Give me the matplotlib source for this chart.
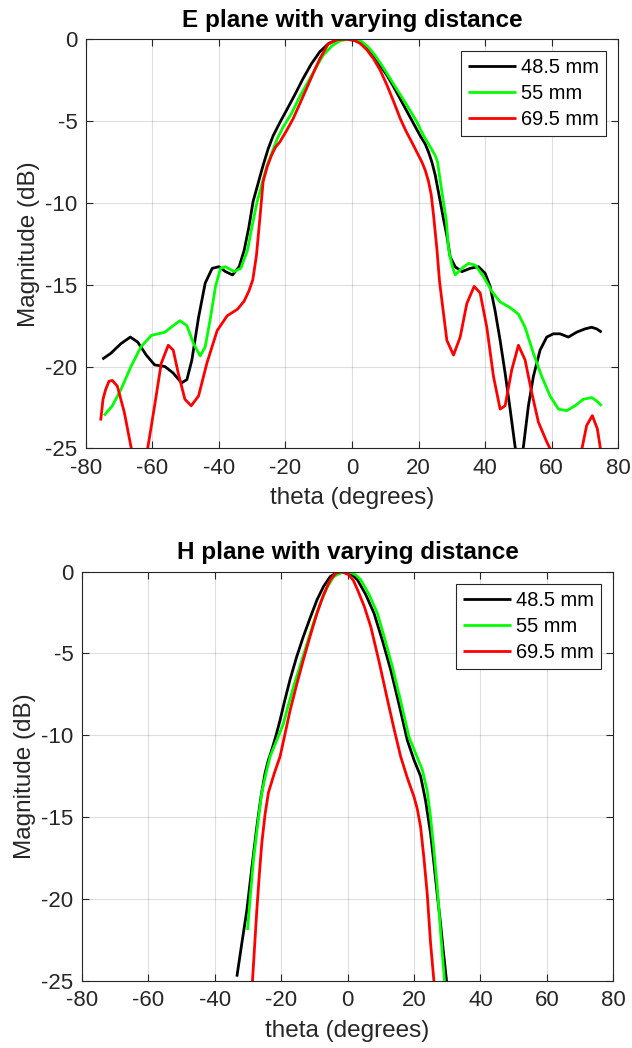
import numpy as np
import matplotlib
matplotlib.use('Agg')
import matplotlib.pyplot as plt

plt.rcParams['font.family'] = ['Liberation Sans', 'DejaVu Sans']
plt.rcParams['axes.unicode_minus'] = False

# E plane (theta deg, magnitude dB)
e_theta_485 = [-75, -72.5, -69.4, -66.6, -64.4, -61.8, -59.3, -56.2, -53.7, -51.2, -49.6, -48.1, -46.1, -44.1, -42, -40, -38, -35.9, -33.9,
               -32.4, -31, -29.7, -28.2, -26.7, -25.2, -23.7, -21.7, -19.7, -17.2, -14.7, -12.2, -9.7, -7, -4.5, -2, 0.5, 2.5, 4.5,
               6.5, 8.5, 10.5, 12.5, 14.5, 16.5, 18.5, 20.5, 22, 23, 24, 25, 26.5, 27.5, 28.5, 29.5, 31, 33, 35.5, 38,
               40, 41.5, 43, 44.5, 46, 47.5, 49, 50.2, 51.5, 53, 54.5, 56.5, 58.5, 60.5, 62.5, 65, 67.5, 70, 72, 73.5, 75]
e_db_485 = [-19.55, -19.2, -18.6, -18.2, -18.5, -19.3, -19.9, -20.0, -20.4, -21.0, -20.8, -19.6, -17.0, -14.9, -14.0, -13.9, -14.2, -14.4, -13.9,
            -12.9, -11.5, -9.9, -8.8, -7.7, -6.7, -5.9, -5.1, -4.35, -3.4, -2.4, -1.5, -0.77, -0.25, -0.03, 0, -0.05, -0.2, -0.47,
            -0.95, -1.6, -2.2, -2.9, -3.65, -4.4, -5.15, -5.9, -6.4, -6.9, -7.5, -8.3, -9.9, -11.0, -12.0, -13.3, -13.9, -14.2, -14.0, -13.9,
            -14.3, -15.1, -16.6, -18.4, -20.4, -22.6, -24.9, -26.3, -24.9, -22.4, -20.6, -19.0, -18.2, -18.0, -18.0, -18.2, -17.9, -17.7, -17.6, -17.7, -17.9]

e_theta_55 = [-74.5, -72, -69.4, -66.4, -63.4, -60.3, -56.2, -53.7, -51.7, -49.6, -47.6, -45.6, -44.1, -42.5, -41, -39.5, -38, -35.4, -33.4,
              -31.4, -30, -28.5, -27, -25.5, -24, -22.5, -20.5, -18.2, -15.7, -13.2, -11, -8.7, -6, -3.5, -1, 1, 3, 5,
              7, 9, 11, 13, 15, 17, 19.5, 21.5, 23, 24, 25, 25.7, 26.7, 27.5, 28.3, 29, 30, 31, 33, 35, 37,
              39.5, 42, 44.5, 47.5, 50, 52, 54.5, 57, 59.5, 62, 64.5, 67, 69.5, 72, 73.5, 75]
e_db_55 = [-23.0, -22.4, -21.4, -20.0, -18.8, -18.1, -17.9, -17.5, -17.2, -17.5, -18.6, -19.35, -18.8, -17.0, -15.1, -14.0, -13.9, -14.2, -14.0,
           -12.9, -11.4, -9.94, -8.8, -7.7, -6.9, -6.1, -5.3, -4.55, -3.5, -2.6, -1.8, -0.98, -0.4, -0.08, 0, 0, -0.15, -0.5,
           -1.0, -1.6, -2.25, -2.9, -3.55, -4.2, -5.05, -5.9, -6.4, -6.75, -7.1, -7.5, -8.9, -10.0, -11.0, -12.8, -13.8, -14.4, -14.0, -13.7, -13.8,
           -14.5, -15.4, -16.05, -16.4, -16.8, -17.6, -19.2, -20.6, -21.8, -22.6, -22.7, -22.4, -22.0, -21.9, -22.1, -22.4]

e_theta_695 = [-75.5, -74.8, -74, -73, -72, -70.5, -68.4, -66.4, -63.9, -61.3, -59.3, -57.3, -55.2, -53.7, -52.2, -50.2, -48.3, -46.1, -43.6,
               -40.5, -37.5, -34.4, -32.4, -31, -29.8, -28.7, -27.7, -26.7, -25.5, -24.2, -23, -21.7, -19.7, -17.7, -15.7, -13.7, -11.7, -9.7,
               -7.2, -4.5, -1.5, 0.5, 2.5, 4.5, 6.5, 8.5, 10.5, 12.5, 14.5, 16.2, 18, 19.5, 21, 22, 23, 23.8, 24.5, 25.5,
               26.3, 27, 28.5, 30.5, 32.5, 34.5, 36.7, 38.5, 40.5, 42.5, 44.5, 46, 48, 50, 52, 54, 56, 58.5, 59.7,
               65, 69, 70.5, 72.2, 73.7, 74.7, 75]
e_db_695 = [-23.3, -22.0, -21.4, -20.9, -20.85, -21.2, -22.8, -24.9, -27.5, -24.9, -22.4, -19.8, -18.7, -19.0, -20.4, -22.0, -22.4, -21.8, -19.8,
            -17.8, -16.9, -16.5, -16.0, -15.4, -14.7, -13.2, -11.0, -8.7, -7.8, -7.1, -6.6, -6.28, -5.6, -4.86, -3.95, -3.03, -2.1, -1.2,
            -0.3, -0.02, 0, -0.04, -0.26, -0.65, -1.2, -1.9, -2.8, -3.8, -4.85, -5.6, -6.3, -6.9, -7.5, -8.0, -8.7, -9.5, -10.75, -12.8,
            -14.8, -15.95, -18.4, -19.3, -18.2, -16.15, -15.1, -15.5, -17.6, -20.6, -22.6, -22.4, -20.2, -18.7, -19.6, -21.6, -23.4, -24.6, -25.1,
            -30.0, -25.1, -23.6, -23.0, -23.8, -25.1, -26.0]

# H plane
h_theta_485 = [-33.3, -31.8, -30.3, -28.8, -27.3, -26, -24.8, -23.8, -22.8, -21.5, -20.3, -18.8, -17.3, -15.3, -13.3, -11.2, -9.2, -7.2, -5.2, -2.7,
               -0.5, 1.5, 3, 5.5, 8, 10.5, 13, 15.5, 18, 20, 22, 23.5, 25, 26, 27, 28, 28.8, 29.8, 31]
h_db_485 = [-24.75, -22.7, -20.7, -18.1, -15.6, -13.7, -12.3, -11.5, -10.9, -10.0, -9.07, -7.8, -6.6, -5.2, -3.97, -2.8, -1.73, -0.9, -0.3, 0,
            -0.05, -0.2, -0.5, -1.4, -2.55, -4.2, -6.0, -8.1, -10.3, -11.5, -12.5, -14.0, -16.0, -17.8, -19.7, -21.5, -23.1, -25.0, -27.0]

h_theta_55 = [-30.1, -29.2, -28.3, -27, -25.8, -24.5, -23.3, -21.3, -19.3, -17.8, -16.2, -14.2, -12.2, -10.2, -8.2, -6.2, -4.2, -1.2,
              1, 2.5, 4, 6.5, 9, 11.2, 13.5, 16, 18.5, 20.5, 22.5, 24, 25, 26, 27, 28, 29.2, 30.5]
h_db_55 = [-21.9, -19.7, -17.6, -15.4, -13.5, -12.3, -11.3, -10.3, -9.3, -8.15, -7.0, -5.7, -4.4, -3.1, -1.94, -1.0, -0.3, 0,
           -0.05, -0.2, -0.5, -1.4, -2.55, -4.1, -5.8, -7.9, -10.1, -11.1, -12.1, -13.4, -15.0, -17.0, -19.25, -22.0, -25.0, -27.0]

h_theta_695 = [-29.5, -28.6, -27.3, -26.5, -25.8, -24.8, -23.8, -22, -20.3, -18.8, -17.3, -15.3, -13.3, -11.2, -9.2, -7.2, -5.2, -3.5, -1.8,
               0.5, 1.8, 3, 5, 7, 9.5, 12, 14, 16, 18, 20, 21, 22, 23, 24, 25, 26, 27]
h_db_695 = [-27.0, -25.0, -20.7, -18.4, -16.6, -14.8, -13.5, -12.3, -11.3, -9.9, -8.5, -6.9, -5.4, -3.9, -2.55, -1.4, -0.5, -0.1, 0,
            -0.2, -0.55, -1.1, -2.1, -3.36, -5.5, -7.8, -9.6, -11.3, -12.6, -13.75, -14.5, -15.6, -17.5, -19.7, -22.7, -25.0, -27.0]

labels = ['48.5 mm', '55 mm', '69.5 mm']
colors = ['#000000', '#00ff00', '#ff0000']

fig = plt.figure(figsize=(6.32, 10.48), dpi=100)
ax1 = fig.add_axes([0.1356, 0.5722, 0.8427, 0.3903])
ax2 = fig.add_axes([0.1293, 0.0642, 0.8411, 0.3903])

def style(ax, title):
    ax.set_xlim(-80, 80)
    ax.set_ylim(-25, 0)
    ax.set_xticks(np.arange(-80, 81, 20))
    ax.set_yticks(np.arange(-25, 1, 5))
    ax.grid(True, color='#262626', alpha=0.15, linewidth=0.8)
    ax.set_axisbelow(True)
    ax.tick_params(direction='in', length=5, top=True, right=True, labelsize=16, colors='#262626', width=0.8)
    ax.tick_params(axis='x', pad=7)
    ax.tick_params(axis='y', pad=6)
    for s in ax.spines.values():
        s.set_color('#262626')
        s.set_linewidth(0.8)
    ax.set_xlabel('theta (degrees)', fontsize=17.5, color='#262626', labelpad=6)
    ax.set_ylabel('Magnitude (dB)', fontsize=17.5, color='#262626', labelpad=4)
    ax.set_title(title, fontsize=17.5, fontweight='bold', pad=9)
    leg = ax.legend(loc='upper right', fontsize=14.4, fancybox=False, framealpha=1,
                    edgecolor='#262626', handlelength=2.4, handletextpad=0.25,
                    borderpad=0.35, labelspacing=0.35, borderaxespad=0.6)
    leg.get_frame().set_linewidth(0.8)

for ax, data, title in [
        (ax1, [(e_theta_485, e_db_485), (e_theta_55, e_db_55), (e_theta_695, e_db_695)], 'E plane with varying distance'),
        (ax2, [(h_theta_485, h_db_485), (h_theta_55, h_db_55), (h_theta_695, h_db_695)], 'H plane with varying distance')]:
    for (t, d), c, lab in zip(data, colors, labels):
        ax.plot(t, d, color=c, lw=2, label=lab, solid_joinstyle='round', solid_capstyle='butt')
    style(ax, title)

fig.savefig('out.png', dpi=100)
